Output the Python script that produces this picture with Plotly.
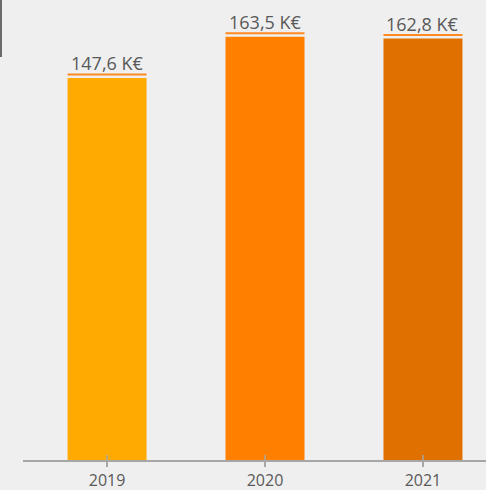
import plotly.graph_objects as go

years = ["2019", "2020", "2021"]
values = [147.6, 163.5, 162.8]
labels = ["147,6 K€", "163,5 K€", "162,8 K€"]
bar_colors = ["#FFAA00", "#FF7F00", "#E07000"]

TEXT = "#595959"
AXIS = "#A6A6A6"
LINE = "#FF8A1F"
FONT = "Open Sans"

fig = go.Figure()
fig.add_trace(go.Bar(
    x=list(range(len(years))), y=values,
    marker=dict(color=bar_colors, line=dict(width=0)),
    width=0.5, hoverinfo="skip",
))

for i, (v, t) in enumerate(zip(values, labels)):
    fig.add_annotation(x=i, y=v, text=t, showarrow=False, xanchor="center",
                       yanchor="bottom", yshift=1,
                       font=dict(family=FONT, size=18, color=TEXT))
    fig.add_shape(type="line", xref="x", yref="y", x0=i - 0.25, x1=i + 0.25,
                  ysizemode="pixel", yanchor=v, y0=3.5, y1=3.5,
                  line=dict(color=LINE, width=2))
    # upper part of crossing tick
    fig.add_shape(type="line", xref="x", yref="y", x0=i, x1=i,
                  ysizemode="pixel", yanchor=0, y0=0, y1=5,
                  line=dict(color=AXIS, width=1.5))

# decorative dark bar at top-left
fig.add_shape(type="rect", xref="paper", yref="paper", x0=-23/463, x1=-21/463,
              y0=1 - 57/460, y1=1,
              fillcolor="#6B6B6B", line=dict(width=0), layer="above")

fig.update_layout(
    width=486, height=490,
    margin=dict(l=23, r=0, t=0, b=30),
    paper_bgcolor="#EFEFEF", plot_bgcolor="#EFEFEF",
    showlegend=False, bargap=0.5,
    font=dict(family=FONT, color=TEXT),
)
fig.update_xaxes(
    range=[-0.532, 2.399], tickvals=[0, 1, 2], ticktext=years,
    showline=True, linecolor=AXIS, linewidth=1.5,
    ticks="outside", ticklen=5, tickcolor=AXIS, tickwidth=1.5,
    showgrid=False, zeroline=False,
    tickfont=dict(family=FONT, size=16, color=TEXT),
)
fig.update_yaxes(range=[0, 177.7], visible=False, showgrid=False, zeroline=False)

fig.write_html(
    "out.html",
    config={"displayModeBar": False, "staticPlot": True},
    post_script="document.body.style.margin='0';document.body.style.overflow='hidden';",
)
